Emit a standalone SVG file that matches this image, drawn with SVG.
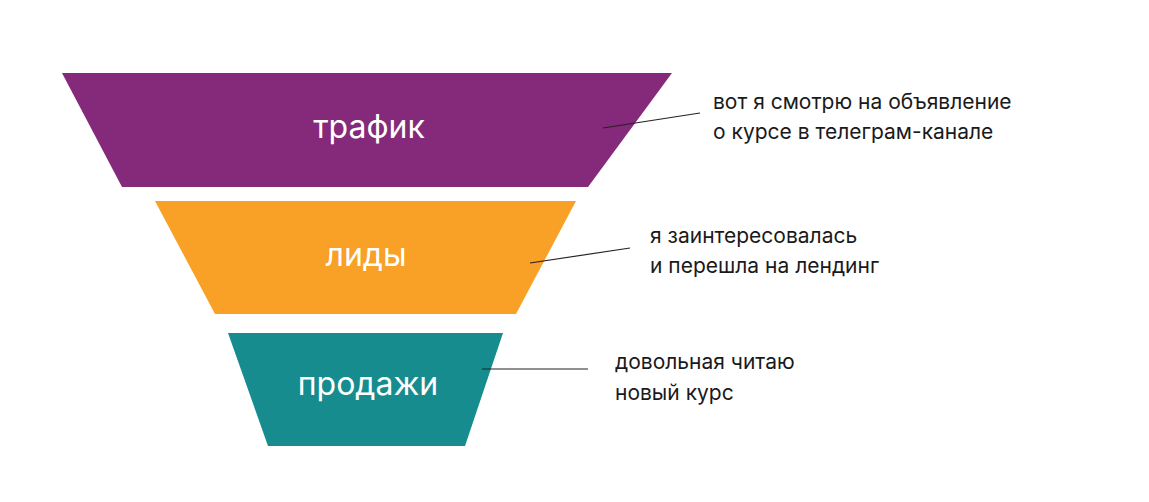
<svg xmlns="http://www.w3.org/2000/svg" width="1149" height="502" viewBox="0 0 1149 502">
<style>
.lbl{font-family:Inter,"Noto Sans",sans-serif;font-size:32px;fill:#fff;text-anchor:middle}
.note{font-family:Inter,"Noto Sans",sans-serif;font-size:21px;fill:#1a1a1a}
.ln{stroke:#222;stroke-width:1.2;fill:none}
</style>
<rect width="1149" height="502" fill="#fff"/>
<g id="traffic"><polygon points="62,73 672,73 588,187 122,187" fill="#85297A"/><text class="lbl" x="369" y="138">трафик</text></g>
<g id="leads"><polygon points="155,201 576,201 516,314 215,314" fill="#F9A027"/><text class="lbl" x="366" y="266">лиды</text></g>
<g id="sales"><polygon points="228,333 503,333 465,446 268,446" fill="#168C8F"/><text class="lbl" x="368" y="395">продажи</text></g>
<g id="connectors">
<line class="ln" x1="603" y1="128" x2="700" y2="113"/>
<line class="ln" x1="530" y1="263" x2="630" y2="248"/>
<line class="ln" x1="482" y1="369" x2="588" y2="369"/>
</g>
<g id="note1"><text class="note" x="713" y="109">вот я смотрю на объявление</text><text class="note" x="713" y="139">о курсе в телеграм-канале</text></g>
<g id="note2"><text class="note" x="650" y="243">я заинтересовалась</text><text class="note" x="650" y="273">и перешла на лендинг</text></g>
<g id="note3"><text class="note" x="615" y="369">довольная читаю</text><text class="note" x="615" y="400">новый курс</text></g>
</svg>
